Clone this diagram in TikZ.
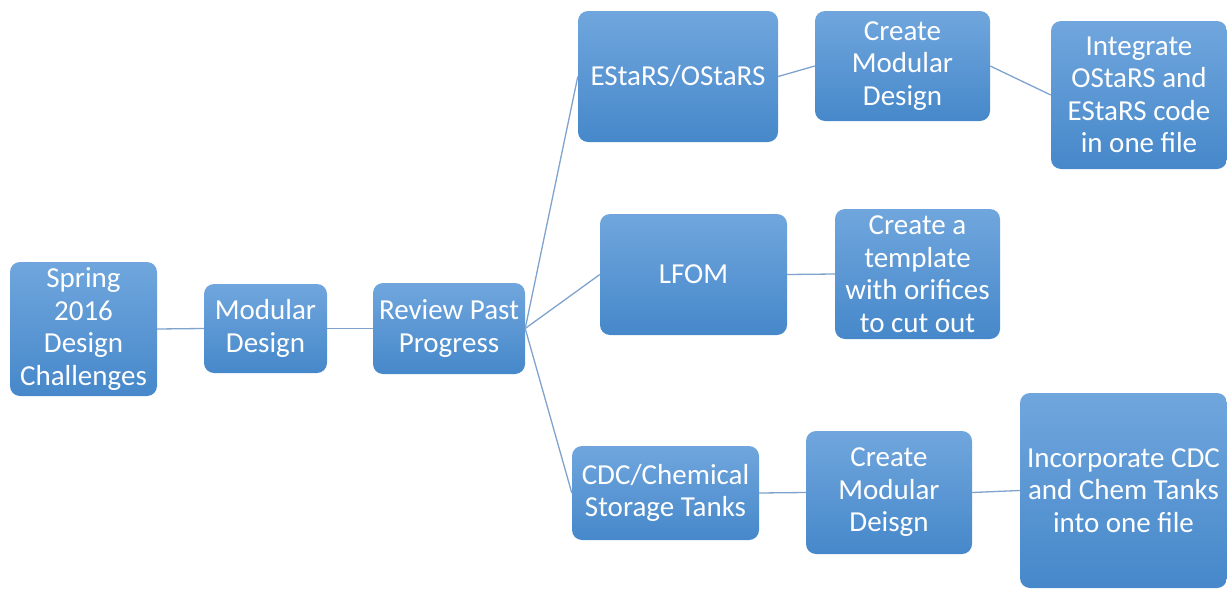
\documentclass[tikz,border=0pt]{standalone}
\usepackage{fontspec}
\setmainfont{Carlito}
\usetikzlibrary{positioning}

\definecolor{boxtop}{RGB}{112,166,221}
\definecolor{boxbot}{RGB}{70,136,202}
\definecolor{linkcol}{RGB}{127,163,205}

\begin{document}
\begin{tikzpicture}[
  x=1pt,
  y=-1pt,
  font=\fontsize{29}{32.5}\selectfont,
  box/.style={rounded corners=10pt, top color=boxtop, bottom color=boxbot, text=white,
              align=center, inner sep=0pt},
  link/.style={draw=linkcol, line width=1.3pt}
]
\useasboundingbox (0,0) rectangle (1227,589);

% Stamm (links) 
\node[box, minimum width=147, minimum height=134] (spring)  at ( 83.5,329)   {Spring\\2016\\Design\\Challenges};
\node[box, minimum width=123, minimum height=89]  (modular) at (265.5,328.5) {Modular\\Design};
\node[box, minimum width=152, minimum height=91]  (review)  at (449,328.5)   {Review Past\\Progress};

% Zweige (Mitte)
\node[box, minimum width=200, minimum height=131] (estars)  at (678,76.5)    {EStaRS/OStaRS};
\node[box, minimum width=187, minimum height=121] (lfom)    at (693.5,274.5) {LFOM};
\node[box, minimum width=187, minimum height=94]  (cdc)     at (665.5,493)   {CDC/Chemical\\Storage Tanks};

% Aufgaben (rechts)
\node[box, minimum width=175, minimum height=110] (estarsMod) at (902.5,66)  {Create\\Modular\\Design};
\node[box, minimum width=176, minimum height=148] (integrate) at (1139,95)   {Integrate\\OStaRS and\\EStaRS code\\in one file};
\node[box, minimum width=165, minimum height=130] (template)  at (917.5,274)  {Create a\\template\\with orifices\\to cut out};
\node[box, minimum width=166, minimum height=123] (cdcMod)    at (889,492.5) {Create\\Modular\\Deisgn};
\node[box, minimum width=207, minimum height=195] (incorp)    at (1123.5,490.5) {Incorporate CDC\\and Chem Tanks\\into one file};

% Verbindungen
\draw[link] (spring.east) -- (modular.west);
\draw[link] (modular.east) -- (review.west);
\draw[link] (review.east) -- (estars.west);
\draw[link] (review.east) -- (lfom.west);
\draw[link] (review.east) -- (cdc.west);
\draw[link] (estars.east) -- (estarsMod.west);
\draw[link] (estarsMod.east) -- (integrate.west);
\draw[link] (lfom.east) -- (template.west);
\draw[link] (cdc.east) -- (cdcMod.west);
\draw[link] (cdcMod.east) -- (incorp.west);

\end{tikzpicture}
\end{document}
